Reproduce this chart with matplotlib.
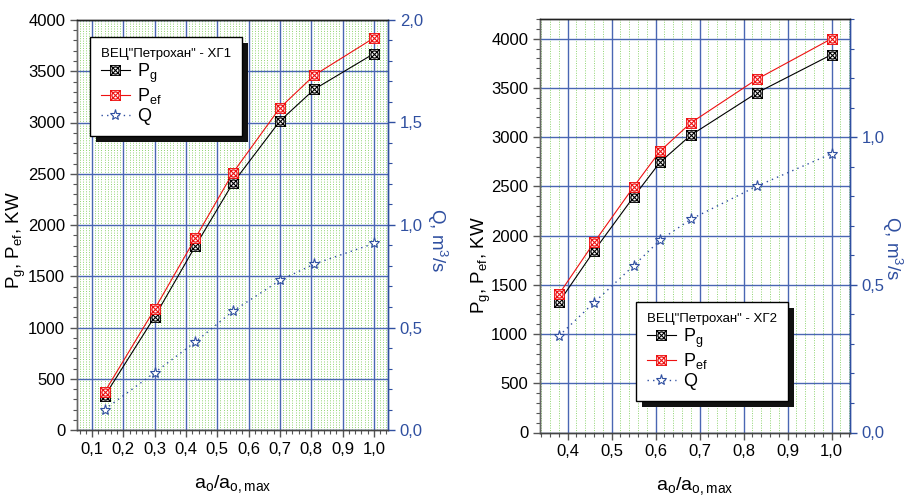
import matplotlib
matplotlib.use('Agg')
import matplotlib.pyplot as plt
import numpy as np
from matplotlib.path import Path
from matplotlib.patches import Rectangle
from matplotlib.ticker import MultipleLocator, FuncFormatter

plt.rcParams['font.family'] = ['Liberation Sans', 'DejaVu Sans']
plt.rcParams['mathtext.fontset'] = 'custom'
plt.rcParams['mathtext.rm'] = 'Liberation Sans'
plt.rcParams['font.size'] = 11

# ХГ1
x1 = [0.14, 0.30, 0.43, 0.55, 0.70, 0.81, 1.00]
pg1 = [330, 1105, 1795, 2410, 3015, 3325, 3672]
pef1 = [370, 1180, 1872, 2510, 3143, 3462, 3825]
q1 = [0.10, 0.28, 0.43, 0.58, 0.73, 0.81, 0.91]

# ХГ2
x2 = [0.38, 0.46, 0.55, 0.61, 0.68, 0.83, 1.00]
pg2 = [1323, 1845, 2394, 2745, 3020, 3449, 3838]
pef2 = [1404, 1930, 2496, 2858, 3145, 3588, 4000]
q2 = [0.327, 0.44, 0.565, 0.651, 0.722, 0.834, 0.944]

BLUE = '#2f4fa0'
GRID_BLUE = '#4a66b3'
GREEN = '#8fd470'

sq = Path([(-1, -1), (1, -1), (1, 1), (-1, 1), (-1, -1)], [1, 2, 2, 2, 79])
circ = Path.circle((0, 0), 0.72)
xl = Path([(-1, -1), (1, 1), (-1, 1), (1, -1)], [1, 2, 1, 2])
box_marker = Path.make_compound_path(sq, circ, xl)

comma = FuncFormatter(lambda v, p: f'{v:.1f}'.replace('.', ','))


def panel(rect, x, pg, pef, q, xlim, ylim, qlim, xmin_step, green_step,
          title, leg_anchor, plab, qlab):
    ax = fig.add_axes(rect)
    ax2 = ax.twinx()
    ax.set_xlim(*xlim)
    ax.set_ylim(*ylim)
    ax2.set_ylim(*qlim)
    ax.set_axisbelow(True)

    # green dotted background lines
    gx = np.arange(0.0, 1.1, green_step)
    ax.vlines(gx, ylim[0], ylim[1], colors=GREEN, linestyles=(0, (1, 1.5)),
              lw=0.7, zorder=0.3)
    ax.grid(which='major', axis='both', color=GRID_BLUE, lw=1.0)

    ax.xaxis.set_major_locator(MultipleLocator(0.1))
    ax.xaxis.set_minor_locator(MultipleLocator(xmin_step))
    ax.xaxis.set_major_formatter(comma)
    ax.yaxis.set_major_locator(MultipleLocator(500))
    ax.yaxis.set_minor_locator(MultipleLocator(100))
    ax2.yaxis.set_major_locator(MultipleLocator(0.5))
    ax2.yaxis.set_minor_locator(MultipleLocator(0.1))
    ax2.yaxis.set_major_formatter(comma)

    ax.tick_params(which='major', direction='out', length=5, width=1,
                   labelsize=12, color='#555555')
    ax.tick_params(which='minor', direction='out', length=3, width=0.8,
                   color='#555555')
    ax2.tick_params(which='major', direction='out', length=5, width=1,
                    labelsize=12, color=BLUE, labelcolor=BLUE)
    ax2.tick_params(which='minor', direction='out', length=3, width=0.8,
                    color=BLUE)

    for a in (ax, ax2):
        a.spines['left'].set_color('#666666')
        a.spines['bottom'].set_color('#444444')
        a.spines['top'].set_color('#222222')
        a.spines['right'].set_color(BLUE)
        for s in a.spines.values():
            s.set_linewidth(1.0)

    h1, = ax.plot(x, pg, color='black', lw=0.8, marker=box_marker, ms=7,
                  mfc='white', mec='black', mew=0.8, label='P$_\\mathregular{g}$')
    h2, = ax.plot(x, pef, color='#ee1111', lw=0.8, marker=box_marker, ms=7,
                  mfc='white', mec='#ee1111', mew=0.8, label='P$_\\mathregular{ef}$')
    h3, = ax2.plot(x, q, color=BLUE, lw=1.0, ls=(0, (1, 3)), marker='*', ms=8,
                   mfc='white', mec=BLUE, mew=0.8, label='Q')

    ax.set_xlabel('a$_\\mathregular{o}$/a$_\\mathregular{o,max}$', fontsize=14,
                  labelpad=12)
    ax.set_ylabel('P$_\\mathregular{g}$, P$_\\mathregular{ef}$, KW', fontsize=13.5,
                  ha='center', va='center')
    ax.yaxis.set_label_coords(*plab)
    ax2.set_ylabel('Q, m$^\\mathregular{3}$/s', fontsize=13.5, color=BLUE,
                   rotation=270, ha='center', va='center')
    ax2.yaxis.set_label_coords(*qlab)

    leg = ax2.legend(handles=[h1, h2, h3], title=title, loc='upper left',
                     bbox_to_anchor=leg_anchor, borderaxespad=0, fancybox=False,
                     framealpha=1, edgecolor='black', fontsize=13,
                     title_fontsize=9.5, handlelength=1.6, handletextpad=0.4,
                     labelspacing=0.1, alignment='left', borderpad=0.6)
    leg.get_frame().set_linewidth(1.0)
    leg.set_zorder(10)
    return ax, ax2, leg


fig = plt.figure(figsize=(9.07, 5.0), dpi=100)

W, H = 907, 500
axA = panel([77 / W, 70 / H, 311 / W, 410 / H], x1, pg1, pef1, q1,
            (0.052, 1.045), (0, 4000), (0, 2.0), 0.02, 0.01,
            'ВЕЦ"Петрохан" - ХГ1', (0.042, 0.959),
            (-0.196, 0.463), (1.158, 0.463))
axB = panel([540 / W, 67.5 / H, 310 / W, 413.5 / H], x2, pg2, pef2, q2,
            (0.337, 1.042), (0, 4200), (0, 1.4), 0.02, 0.02,
            'ВЕЦ"Петрохан" - ХГ2', (0.31, 0.316),
            (-0.19, 0.405), (1.138, 0.446))

# black drop shadow behind the legend boxes
fig.canvas.draw()
for ax, ax2, leg in (axA, axB):
    bb = leg.get_window_extent()
    sh = Rectangle((bb.x0 + 6, bb.y0 - 6), bb.width, bb.height, transform=None,
                   facecolor='#111111', edgecolor='none', zorder=9)
    ax2.add_patch(sh)

fig.savefig('out.png', dpi=100, facecolor='white')
